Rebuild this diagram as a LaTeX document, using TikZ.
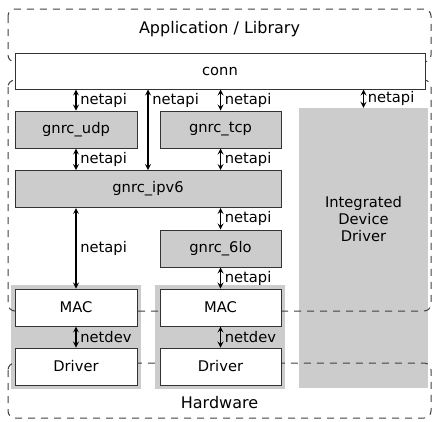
\documentclass[tikz,border=0pt]{standalone}
\usepackage{fontspec}
\setmainfont{DejaVu Sans}
\definecolor{boxgray}{HTML}{CCCCCC}
\definecolor{edge}{HTML}{333333}
\tikzset{
  box/.style={draw=edge, line width=1pt, fill=white, minimum height=37pt, inner sep=0pt},
  graybox/.style={box, fill=boxgray},
  link/.style={<->, line width=1.6pt},
  lbl/.style={right, inner sep=3.5pt},
  zone/.style={draw=black!75, dash pattern=on 7pt off 6pt, rounded corners=7pt, line width=1pt},
  title/.style={font=\fontsize{16}{19}\selectfont}
}
\begin{document}
\begin{tikzpicture}[x=1pt,y=-1pt,>=stealth,font=\fontsize{14.7}{17}\selectfont]
\useasboundingbox (0,0) rectangle (433,421);
% grey backgrounds
\fill[boxgray] (11,285) rectangle (141,389);
\fill[boxgray] (155,285) rectangle (285,389);
\node[fill=boxgray, minimum width=129pt, minimum height=280pt, inner sep=0pt] (idd) at (363.5,248) {};
\node[align=center] (iddtext) at (363.5,219) {Integrated\\Device\\Driver};
% dashed zones
\draw[zone] (8,9) rectangle (431,62);
\draw[zone] (8,80) rectangle (431,311);
\draw[zone] (8,363) rectangle (431,418);
\node[title] (app) at (219.5,29) {Application / Library};
\node[title] (hw) at (219.5,403) {Hardware};
% boxes
\node[box, minimum width=410pt, minimum height=36pt] (conn) at (220,71) {conn};
\node[graybox, minimum width=122pt] (udp) at (76,129.5) {gnrc\_udp};
\node[graybox, minimum width=121pt] (tcp) at (220.5,129.5) {gnrc\_tcp};
\node[graybox, minimum width=266pt] (ipv6) at (148,189) {gnrc\_ipv6};
\node[graybox, minimum width=121pt] (6lo) at (220.5,248.5) {gnrc\_6lo};
\node[box, minimum width=122pt] (macl) at (76,307.5) {MAC};
\node[box, minimum width=122pt] (drvl) at (76,366.5) {Driver};
\node[box, minimum width=121pt] (macr) at (220.5,307.5) {MAC};
\node[box, minimum width=121pt] (drvr) at (220.5,366.5) {Driver};
% interfaces
\draw[link] (conn.south -| udp.north) -- (udp.north) node[lbl, midway] {netapi};
\draw[link] (conn.south -| ipv6.north) -- (ipv6.north) node[lbl, pos=0.14] {netapi};
\draw[link] (conn.south -| tcp.north) -- (tcp.north) node[lbl, midway] {netapi};
\draw[link] (conn.south -| idd.north) -- (idd.north) node[lbl, midway] {netapi};
\draw[link] (udp.south) -- (udp.south |- ipv6.north) node[lbl, midway] {netapi};
\draw[link] (tcp.south) -- (tcp.south |- ipv6.north) node[lbl, midway] {netapi};
\draw[link] (6lo.north |- ipv6.south) -- (6lo.north) node[lbl, midway] {netapi};
\draw[link] (macl.north |- ipv6.south) -- (macl.north) node[lbl, midway] {netapi};
\draw[link] (6lo.south) -- (macr.north) node[lbl, midway] {netapi};
\draw[link] (macl.south) -- (drvl.north) node[lbl, midway] {netdev};
\draw[link] (macr.south) -- (drvr.north) node[lbl, midway] {netdev};
\end{tikzpicture}
\end{document}
